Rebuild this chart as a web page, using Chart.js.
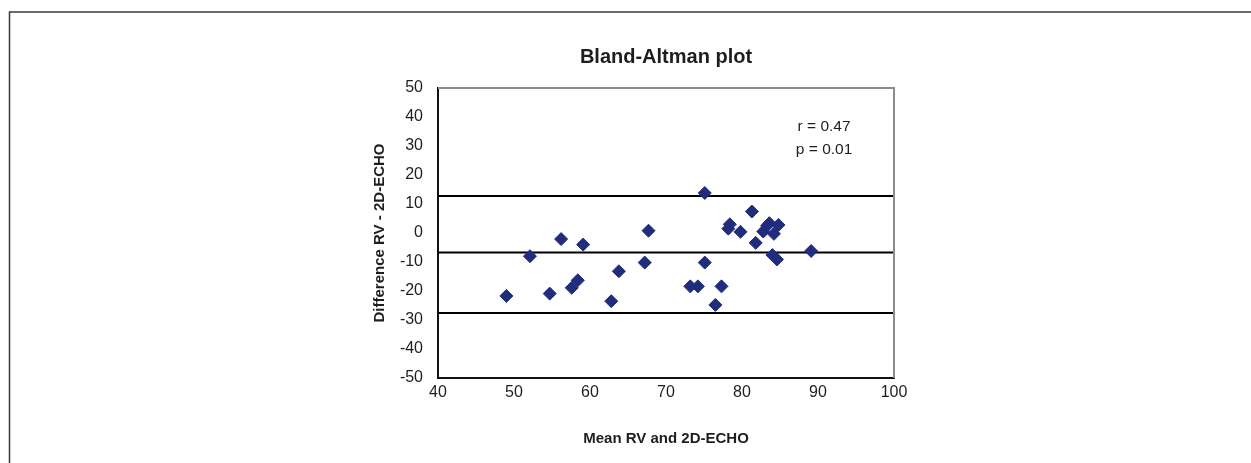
<!DOCTYPE html>
<html>
<head>
<meta charset="utf-8">
<script src="https://cdn.jsdelivr.net/npm/chart.js@4"></script>
<style>
  html, body { margin: 0; padding: 0; background: #fff; }
  #wrap { width: 1251px; height: 463px; position: relative; }
</style>
</head>
<body>
<div id="wrap"><canvas id="chart" width="1251" height="463"></canvas></div>
<script>
// mean of the two methods (x) and their difference (y)
const meanValues = [49.0, 52.1, 54.7, 56.2, 57.6, 58.4, 59.1, 62.8, 63.8, 67.2,
    67.7, 73.2, 74.2, 75.1, 75.1, 76.5, 77.3, 78.2, 78.4, 79.8,
    81.3, 81.8, 82.8, 83.3, 83.6, 84.2, 84.0, 84.6, 84.8, 89.1];
const diffValues = [-21.7, -8.0, -20.9, -2.1, -18.9, -16.3, -4.0, -23.5, -13.2, -10.2,
    0.8, -18.4, -18.4, 13.8, -10.2, -24.8, -18.4, 1.5, 3.0, 0.4,
    7.4, -3.4, 0.5, 2.5, 3.4, -0.3, -7.6, -9.1, 2.8, -6.2];

// upper limit, mean difference, lower limit
const limitLines = [12.8, -6.7, -27.6];

const xRange = [40, 100];
const yRange = [-50, 50];
const tickStep = 10;

const chartTitle = 'Bland-Altman plot';
const xTitle = 'Mean RV and 2D-ECHO';
const yTitle = 'Difference RV - 2D-ECHO';
const statLines = ['r = 0.47', 'p = 0.01'];
const FONT = '"Liberation Sans", Arial, Helvetica, sans-serif';

const points = meanValues.map((x, i) => ({ x, y: diffValues[i] }));

const lineSets = limitLines.map(v => ({
    type: 'line',
    data: [{ x: xRange[0], y: v }, { x: xRange[1], y: v }],
    borderColor: '#000',
    borderWidth: 2,
    pointRadius: 0,
    fill: false
}));

const decorPlugin = {
    id: 'decor',
    beforeDraw(chart) {
        const ctx = chart.ctx;
        ctx.save();
        // outer frame (top and left only)
        ctx.strokeStyle = '#3a3a3a';
        ctx.lineWidth = 1.5;
        ctx.beginPath();
        ctx.moveTo(1251, 12);
        ctx.lineTo(9.5, 12);
        ctx.lineTo(9.5, 463);
        ctx.stroke();
        ctx.restore();
    },
    afterDatasetsDraw(chart) {
        const { ctx, chartArea: a, scales } = chart;
        const cx = (a.left + a.right) / 2;
        ctx.save();
        // plot-area border on top and right
        ctx.strokeStyle = '#8c8c8c';
        ctx.lineWidth = 2;
        ctx.beginPath();
        ctx.moveTo(a.left, a.top);
        ctx.lineTo(a.right, a.top);
        ctx.lineTo(a.right, a.bottom);
        ctx.stroke();

        ctx.fillStyle = '#1e1e1e';
        ctx.textAlign = 'center';
        ctx.textBaseline = 'middle';
        ctx.font = 'bold 20px ' + FONT;
        ctx.fillText(chartTitle, cx, a.top - 31);

        ctx.font = 'bold 15px ' + FONT;
        ctx.fillText(xTitle, cx, a.bottom + 61);

        ctx.save();
        ctx.translate(a.left - 58, (a.top + a.bottom) / 2);
        ctx.rotate(-Math.PI / 2);
        ctx.fillText(yTitle, 0, 0);
        ctx.restore();

        // correlation note
        ctx.font = '15.5px ' + FONT;
        const tx = scales.x.getPixelForValue(90.8);
        ctx.fillText(statLines[0], tx, scales.y.getPixelForValue(36.6));
        ctx.fillText(statLines[1], tx, scales.y.getPixelForValue(28.6));
        ctx.restore();
    }
};

new Chart(document.getElementById('chart'), {
    type: 'scatter',
    data: {
        datasets: [
            {
                data: points,
                pointStyle: 'rectRot',
                pointRadius: 6.5,
                pointHoverRadius: 6.5,
                backgroundColor: '#1f2d7c',
                borderColor: '#1f2d7c',
                borderWidth: 1
            },
            ...lineSets
        ]
    },
    options: {
        responsive: false,
        animation: false,
        events: [],
        layout: { padding: { top: 88, left: 380, right: 357, bottom: 0 } },
        plugins: {
            legend: { display: false },
            tooltip: { enabled: false },
            title: { display: false }
        },
        scales: {
            x: {
                type: 'linear',
                min: xRange[0],
                max: xRange[1],
                ticks: { stepSize: tickStep, color: '#1e1e1e', padding: 0, font: { family: FONT, size: 16 } },
                grid: { display: false, drawOnChartArea: false, drawTicks: true, tickLength: 5, tickColor: '#222' },
                border: { color: '#111', width: 2 },
                afterFit(s) { s.height = 85; }
            },
            y: {
                type: 'linear',
                min: yRange[0],
                max: yRange[1],
                ticks: { stepSize: tickStep, color: '#1e1e1e', padding: 9, font: { family: FONT, size: 16 } },
                grid: { display: false, drawOnChartArea: false, drawTicks: true, tickLength: 6, tickColor: '#222' },
                border: { color: '#111', width: 2 },
                afterFit(s) { s.width = 58; }
            }
        }
    },
    plugins: [decorPlugin]
});
</script>
</body>
</html>
